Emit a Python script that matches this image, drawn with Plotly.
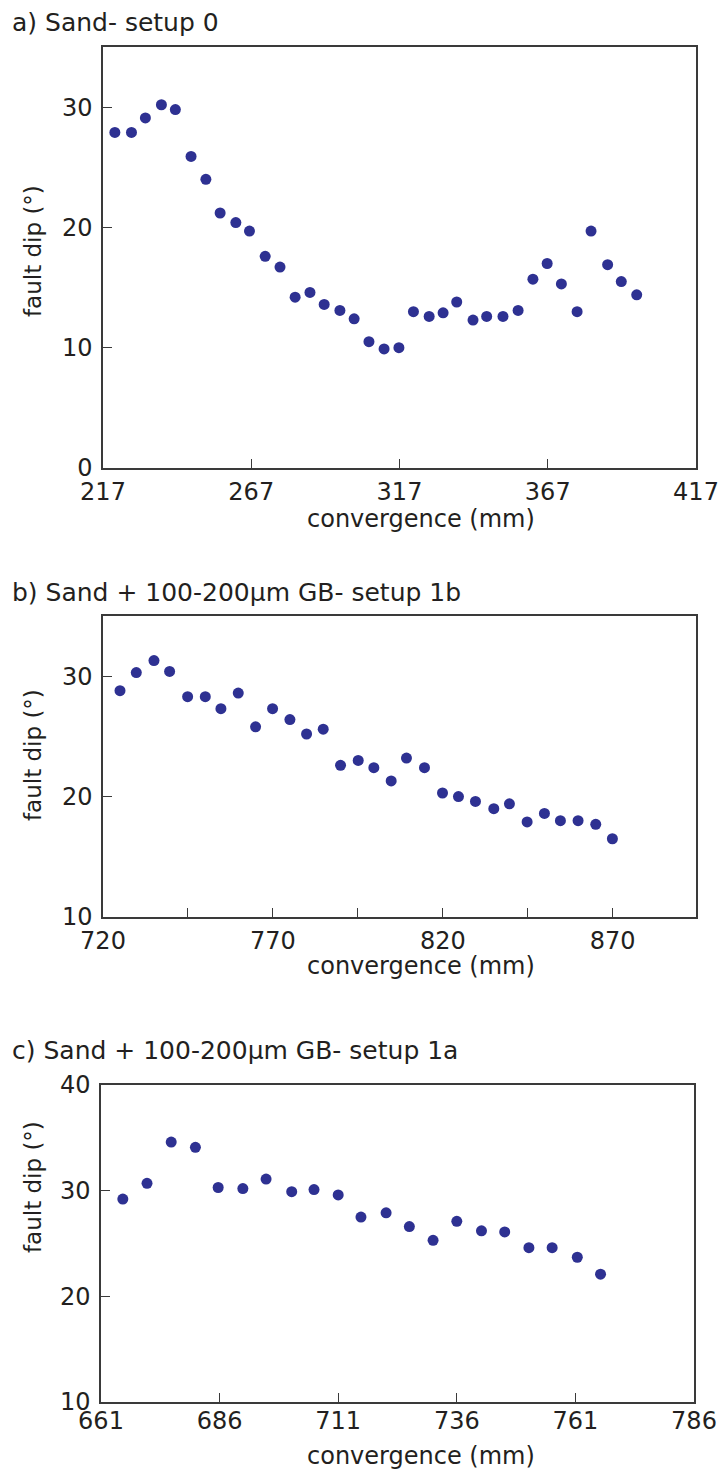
import plotly.graph_objects as go

# ---- data ----
conv_a = [221.0, 226.6, 231.3, 236.7, 241.4, 246.7, 251.7, 256.5, 261.8, 266.4,
          271.7, 276.7, 281.8, 286.8, 291.6, 296.9, 301.7, 306.7, 311.8, 316.8,
          321.7, 327.0, 331.7, 336.3, 341.8, 346.4, 351.9, 357.0, 362.0, 366.8,
          371.6, 376.9, 381.6, 387.2, 391.8, 397.0]
dip_a = [27.9, 27.9, 29.1, 30.2, 29.8, 25.9, 24.0, 21.2, 20.4, 19.7,
         17.6, 16.7, 14.2, 14.6, 13.6, 13.1, 12.4, 10.5, 9.9, 10.0,
         13.0, 12.6, 12.9, 13.8, 12.3, 12.6, 12.6, 13.1, 15.7, 17.0,
         15.3, 13.0, 19.7, 16.9, 15.5, 14.4]

conv_b = [725.0, 729.8, 735.0, 739.6, 744.9, 750.1, 754.7, 759.8, 764.9, 769.9,
          775.0, 779.9, 784.8, 789.9, 795.1, 799.7, 804.8, 809.3, 814.6, 819.9,
          824.6, 829.6, 835.0, 839.6, 844.8, 849.9, 854.6, 859.8, 865.0, 869.9]
dip_b = [28.8, 30.3, 31.3, 30.4, 28.3, 28.3, 27.3, 28.6, 25.8, 27.3,
         26.4, 25.2, 25.6, 22.6, 23.0, 22.4, 21.3, 23.2, 22.4, 20.3,
         20.0, 19.6, 19.0, 19.4, 17.9, 18.6, 18.0, 18.0, 17.7, 16.5]

conv_c = [665.6, 670.7, 675.8, 680.9, 685.7, 690.9, 695.8, 701.2, 705.9, 711.0,
          715.8, 721.1, 726.0, 731.0, 736.0, 741.2, 746.1, 751.2, 756.1, 761.4, 766.3]
dip_c = [29.2, 30.7, 34.6, 34.1, 30.3, 30.2, 31.1, 29.9, 30.1, 29.6,
         27.5, 27.9, 26.6, 25.3, 27.1, 26.2, 26.1, 24.6, 24.6, 23.7, 22.1]

titles = ["a) Sand- setup 0",
          "b) Sand + 100-200µm GB- setup 1b",
          "c) Sand + 100-200µm GB- setup 1a"]
x_label = "convergence (mm)"
y_label = "fault dip (°)"

ticks_a_x = [217, 267, 317, 367, 417]
ticks_a_y = [0, 10, 20, 30]
ticks_b_x = [720, 745, 770, 795, 820, 845, 870, 895]
ticks_b_xlab = ["720", "", "770", "", "820", "", "870", ""]
ticks_b_y = [10, 20, 30]
ticks_c_x = [661, 686, 711, 736, 761, 786]
ticks_c_y = [10, 20, 30, 40]

# ---- layout geometry (page pixels; the page body has an 8px margin) ----
PAGE_W, PAGE_H = 726, 1472
OFF = 8
W, H = PAGE_W - OFF, PAGE_H - OFF


def px(x):
    return (x - OFF) / W


def py(y):
    return 1 - (y - OFF) / H


FONT = "DejaVu Sans, Liberation Sans, sans-serif"
TXT = "#231f20"
LINE = "#3a3a3a"
MARK = "#2e3192"

panels = [
    dict(x=conv_a, y=dip_a, xr=[217, 417], yr=[0, 35], xt=ticks_a_x, xtl=[str(v) for v in ticks_a_x],
         yt=ticks_a_y, box=(103, 696, 47, 468), title_y=23, xl_y=519, yl_y=251, xstand=1),
    dict(x=conv_b, y=dip_b, xr=[720, 894.5], yr=[10, 35], xt=ticks_b_x, xtl=ticks_b_xlab,
         yt=ticks_b_y, box=(103, 696, 616, 917), title_y=592, xl_y=966, yl_y=755, xstand=1),
    dict(x=conv_c, y=dip_c, xr=[661, 786], yr=[10, 40], xt=ticks_c_x, xtl=[str(v) for v in ticks_c_x],
         yt=ticks_c_y, box=(101, 694, 1085, 1402), title_y=1050, xl_y=1456, yl_y=1187, xstand=-4),
]

fig = go.Figure()
annotations = []
for i, p in enumerate(panels, start=1):
    sfx = "" if i == 1 else str(i)
    l, r, t, b = p["box"]
    fig.add_trace(go.Scatter(
        x=p["x"], y=p["y"], mode="markers",
        marker=dict(color=MARK, size=11, line=dict(width=0)),
        xaxis="x" + sfx, yaxis="y" + sfx, showlegend=False, hoverinfo="x+y"))
    axcommon = dict(showgrid=False, zeroline=False, showline=True, mirror=True,
                    linecolor=LINE, linewidth=1.5, ticks="inside", ticklen=9,
                    tickwidth=1.3, tickcolor=LINE, automargin=False,
                    ticklabeloverflow="allow",
                    tickfont=dict(family=FONT, size=24, color=TXT))
    fig.update_layout(**{
        "xaxis" + sfx: dict(axcommon, domain=[px(l), px(r)], range=p["xr"],
                            tickmode="array", tickvals=p["xt"], ticktext=p["xtl"],
                            anchor="y" + sfx, ticklabelstandoff=p["xstand"]),
        "yaxis" + sfx: dict(axcommon, domain=[py(b), py(t)], range=p["yr"],
                            tickmode="array", tickvals=p["yt"],
                            anchor="x" + sfx, ticklabelstandoff=4),
    })
    annotations.append(dict(text=titles[i - 1], xref="paper", yref="paper",
                            x=px(10), y=py(p["title_y"]), xanchor="left", yanchor="middle",
                            showarrow=False, font=dict(family=FONT, size=25, color=TXT)))
    annotations.append(dict(text=x_label, xref="paper", yref="paper",
                            x=px(421), y=py(p["xl_y"]), xanchor="center",
                            yanchor="middle", showarrow=False,
                            font=dict(family=FONT, size=24, color=TXT)))
    annotations.append(dict(text=y_label, xref="paper", yref="paper",
                            x=px(33), y=py(p["yl_y"]), xanchor="center",
                            yanchor="middle", textangle=-90, showarrow=False,
                            font=dict(family=FONT, size=23, color=TXT)))

fig.update_layout(width=W, height=H, margin=dict(l=0, r=0, t=0, b=0),
                  paper_bgcolor="white", plot_bgcolor="white",
                  annotations=annotations)

fig.write_html("out.html")
